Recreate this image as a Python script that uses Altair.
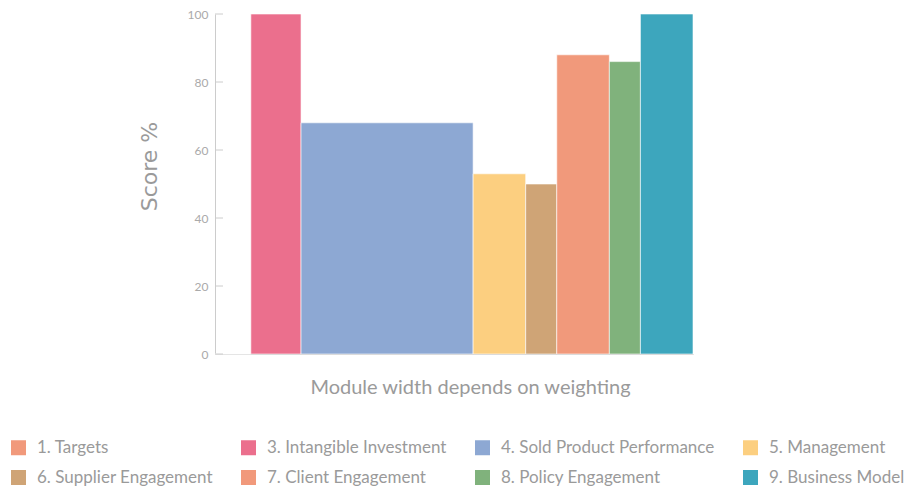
import altair as alt
import pandas as pd

modules = ["1. Targets", "3. Intangible Investment", "4. Sold Product Performance",
           "5. Management", "6. Supplier Engagement", "7. Client Engagement",
           "8. Policy Engagement", "9. Business Model"]
weights = [7.5, 10.5, 36, 11, 6.5, 11, 6.5, 11]
scores = [0, 100, 68, 53, 50, 88, 86, 100]
colors = ["#F1997B", "#EB6F8D", "#8DA8D3", "#FCCF80", "#CFA476", "#F1997B", "#80B27C", "#3DA6BD"]
y_ticks = [0, 20, 40, 60, 80, 100]

ends = pd.Series(weights).cumsum()
starts = ends - pd.Series(weights)
df = pd.DataFrame({"module": modules, "start": starts, "end": ends, "score": scores})
tick_df = pd.DataFrame({"score": y_ticks})

FONT = "Lato"
GRAY = "#9a9a9a"
AXIS = "#cccccc"

bars = alt.Chart(df).mark_rect(stroke="white", strokeWidth=0.6).encode(
    x=alt.X("start:Q",
            scale=alt.Scale(domain=[0, 100], nice=False, zero=True),
            axis=alt.Axis(title="Module width depends on weighting", labels=False, ticks=False,
                          grid=False, domainColor=AXIS, titleFontSize=20, titleColor=GRAY,
                          titleFontWeight="normal", titleX=255, titleY=39,
                          titleBaseline="alphabetic", titleAlign="center")),
    x2="end:Q",
    y=alt.Y("score:Q",
            scale=alt.Scale(domain=[0, 100], nice=False),
            axis=alt.Axis(title="Score %", values=y_ticks, grid=False, ticks=False,
                          domainColor=AXIS, labelColor="#aaaaaa", labelFontSize=12,
                          labelPadding=7, titleFontSize=22, titleFont="DejaVu Sans",
                          titleColor=GRAY, titleFontWeight="normal", titleX=-66, titleY=152,
                          titleAngle=270, titleAlign="center", titleBaseline="middle")),
    y2=alt.datum(0),
    color=alt.Color("module:N",
                    scale=alt.Scale(domain=modules, range=colors),
                    legend=alt.Legend(title=None, orient="none", legendX=-205, legendY=425,
                                      direction="horizontal", columns=4, symbolType="square",
                                      symbolSize=225, symbolStrokeWidth=0, labelFontSize=17,
                                      labelColor=GRAY, labelLimit=400, columnPadding=27,
                                      rowPadding=12, labelOffset=10, padding=0)),
)

ticks = alt.Chart(tick_df).mark_rule(color=AXIS).encode(
    y="score:Q", x=alt.value(0), x2=alt.value(8)
)

chart = alt.layer(bars, ticks).properties(
    width=478, height=340,
    autosize=alt.AutoSizeParams(type="none"),
    padding={"left": 207, "top": 6, "right": 215, "bottom": 134},
).configure(font=FONT).configure_view(stroke=None)

chart.save("out.html", embed_options={"renderer": "svg", "actions": False})
